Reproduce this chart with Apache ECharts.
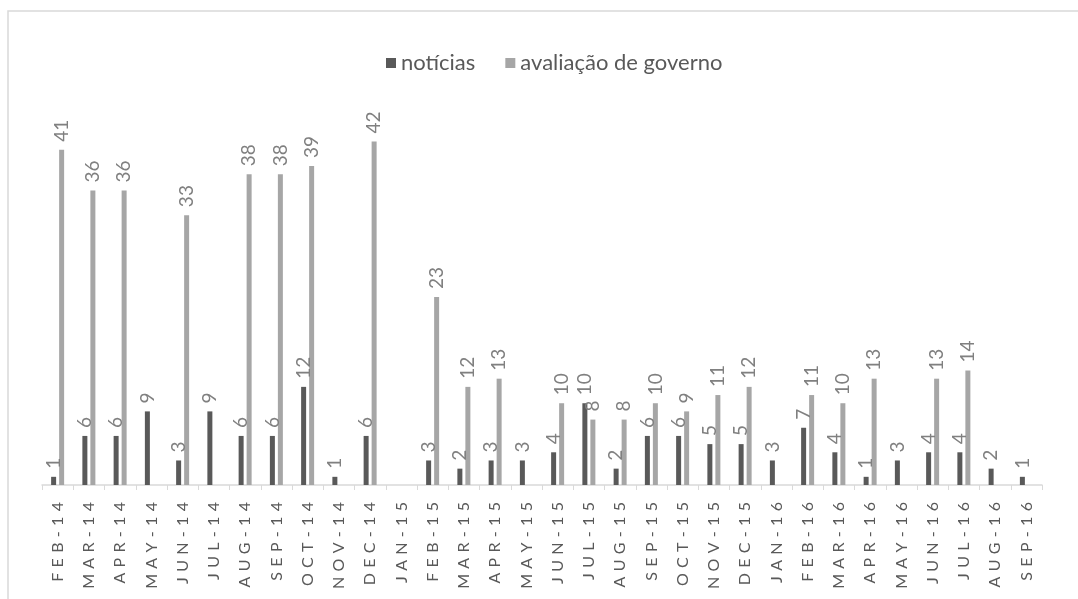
<!DOCTYPE html>
<html>
<head>
<meta charset="utf-8">
<script src="https://cdn.jsdelivr.net/npm/echarts@6/dist/echarts.min.js"></script>
<style>
  html, body { margin: 0; padding: 0; background: #fff; }
  #main { width: 1078px; height: 599px; }
</style>
</head>
<body>
<div id="main"></div>
<script>
// categorias (mês-ano)
var meses = ['FEB-14','MAR-14','APR-14','MAY-14','JUN-14','JUL-14','AUG-14','SEP-14','OCT-14','NOV-14','DEC-14',
    'JAN-15','FEB-15','MAR-15','APR-15','MAY-15','JUN-15','JUL-15','AUG-15','SEP-15','OCT-15','NOV-15','DEC-15',
    'JAN-16','FEB-16','MAR-16','APR-16','MAY-16','JUN-16','JUL-16','AUG-16','SEP-16'];
var noticias = [1,6,6,9,3,9,6,6,12,1,6,
    null,3,2,3,3,4,10,2,6,6,5,5,
    3,7,4,1,3,4,4,2,1];
var avaliacao = [41,36,36,null,33,null,38,38,39,null,42,
    null,23,12,13,null,10,8,8,10,9,11,12,
    null,11,10,13,null,13,14,null,null];

var myChart = echarts.init(document.getElementById('main'));

var labelStyle = {
    show: true,
    position: 'top',
    rotate: 90,
    align: 'left',
    verticalAlign: 'middle',
    distance: 8,
    color: '#808080',
    fontSize: 19,
    fontFamily: 'Lato'
};

var option = {
    backgroundColor: '#fff',
    animation: false,
    textStyle: { fontFamily: 'Lato' },
    graphic: [{
        type: 'rect',
        shape: { x: 8, y: 11, width: 1200, height: 700 },
        style: { fill: 'none', stroke: '#d9d9d9', lineWidth: 1.5 },
        silent: true
    }],
    legend: {
        top: 47,
        left: 381,
        itemWidth: 10,
        itemHeight: 10,
        itemGap: 30,
        icon: 'rect',
        textStyle: { color: '#595959', fontSize: 22, fontFamily: 'Lato' },
        data: ['notícias', 'avaliação de governo']
    },
    grid: { left: 42, right: 36, top: 117, bottom: 114 },
    xAxis: {
        type: 'category',
        data: meses,
        axisLine: { lineStyle: { color: '#d9d9d9', width: 1.5 } },
        axisTick: { show: true, length: 5, lineStyle: { color: '#d9d9d9' } },
        axisLabel: {
            rotate: 90,
            margin: 17,
            color: '#595959',
            fontSize: 16,
            fontFamily: 'Lato',
            // espaçamento entre letras, como no original
            formatter: function (v) { return v.split('').join('\u2004'); }
        }
    },
    yAxis: {
        type: 'value',
        min: 0,
        max: 45,
        show: false,
        splitLine: { show: false }
    },
    series: [{
        name: 'notícias',
        type: 'bar',
        data: noticias,
        barWidth: 5,
        barGap: '60%',
        itemStyle: { color: '#595959' },
        label: labelStyle
    }, {
        name: 'avaliação de governo',
        type: 'bar',
        data: avaliacao,
        barWidth: 5,
        itemStyle: { color: '#a6a6a6' },
        label: labelStyle
    }]
};
myChart.setOption(option);
</script>
</body>
</html>
